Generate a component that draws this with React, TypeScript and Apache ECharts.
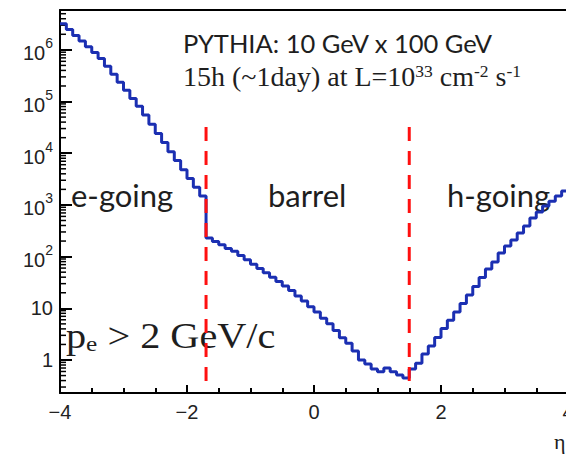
import React, { useEffect, useRef } from "react";
import * as echarts from "echarts";

// Histogram: counts per 0.1-wide eta bin, from eta = -4 to eta = 4
const ETA_START = -4;
const BIN_WIDTH = 0.1;
const counts: number[] = [
  // e-going (-4 .. -1.7)
  3.2e6, 2.47e6, 1.9e6, 1.49e6, 1.15e6, 8.9e5, 6.8e5, 4.8e5, 3.37e5, 2.35e5,
  1.65e5, 1.15e5, 8.1e4, 5.5e4, 3.65e4, 2.4e4, 1.62e4, 1.07e4, 7.2e3, 4.8e3,
  3.25e3, 2.2e3, 1.49e3,
  // barrel (-1.7 .. 1.5)
  230, 196, 169, 144, 127, 105, 87, 71, 59, 48.6,
  40, 33, 27, 22, 17.3, 13.8, 10.7, 8.5, 6.4, 5.0,
  3.73, 2.7, 2.1, 1.49, 1.0, 0.84, 0.67, 0.59, 0.7, 0.59,
  0.51, 0.45,
  // h-going (1.5 .. 4)
  0.67, 0.87, 1.31, 1.87, 2.72, 4.07, 5.9, 8.5, 12.4, 18.1,
  26.4, 39.5, 57.7, 79, 118, 161, 210, 287, 390, 560,
  730, 950, 1180, 1490, 1860,
];

const X_MIN = -4;
const X_MAX = 4;
const X_INTERVAL = 2;
const Y_MIN = 0.23;
const Y_MAX = 5.9e6;
const cutPositions = [-1.7, 1.5];
const cutLineRange = [3.2e4, 0.26];
const yMinorMultipliers = [2, 3, 4, 5, 6, 7, 8, 9];
const yDecades = [-1, 0, 1, 2, 3, 4, 5, 6];

const BLUE = "#1b2fb2";
const INK = "#1e1e1e";

export default function App() {
  const ref = useRef<HTMLDivElement>(null);

  useEffect(() => {
    const chart = echarts.init(ref.current!, null, { renderer: "svg" });

    const stepData: [number, number][] = [];
    counts.forEach((c, i) => {
      const lo = Math.round((ETA_START + i * BIN_WIDTH) * 10) / 10;
      const hi = Math.round((lo + BIN_WIDTH) * 10) / 10;
      stepData.push([lo, c]);
      stepData.push([hi, c]);
    });

    const minorTicks: [number, number][] = [];
    yDecades.forEach((d) => {
      yMinorMultipliers.forEach((m) => {
        const v = m * Math.pow(10, d);
        if (v > Y_MIN && v < Y_MAX) minorTicks.push([X_MIN, v]);
      });
    });

    const yLabel = (v: number) => {
      const n = Math.round(Math.log10(v));
      if (Math.abs(v - Math.pow(10, n)) / v > 1e-6) return "";
      if (n === 0) return "1";
      if (n === 1) return "10";
      return "{b|10}{s|" + n + "}";
    };

    const option: any = {
      animation: false,
      grid: { left: 60, right: -2, top: 10, bottom: 62, outerBoundsMode: "none", containLabel: false },
      xAxis: [
        {
          type: "value",
          min: X_MIN,
          max: X_MAX,
          interval: X_INTERVAL,
          axisLine: { show: true, onZero: false, lineStyle: { color: "#000", width: 2 } },
          axisTick: { show: true, inside: true, length: 8, lineStyle: { color: "#000", width: 2 } },
          minorTick: { show: true, splitNumber: 4, length: 5, lineStyle: { color: "#000", width: 2 } },
          splitLine: { show: false },
          axisLabel: {
            show: true,
            margin: 9,
            color: "#222",
            fontFamily: "Liberation Sans",
            fontSize: 20,
            formatter: (v: number) => (v < 0 ? "\u2212" + Math.abs(v) : String(v)),
          },
        },
        {
          type: "value",
          position: "top",
          min: X_MIN,
          max: X_MAX,
          axisLine: { show: true, onZero: false, lineStyle: { color: "#000", width: 2 } },
          axisTick: { show: false },
          axisLabel: { show: false },
          splitLine: { show: false },
        },
      ],
      yAxis: {
        type: "log",
        logBase: 10,
        min: Y_MIN,
        max: Y_MAX,
        axisLine: { show: true, onZero: false, lineStyle: { color: "#000", width: 2 } },
        axisTick: { show: true, inside: true, length: 12, lineStyle: { color: "#000", width: 2 } },
        splitLine: { show: false },
        axisLabel: {
          show: true,
          margin: 7,
          showMinLabel: false,
          showMaxLabel: false,
          color: "#222",
          fontFamily: "Liberation Sans",
          fontSize: 20,
          formatter: yLabel,
          rich: {
            b: { fontFamily: "Liberation Sans", fontSize: 20, lineHeight: 22, verticalAlign: "bottom", color: "#222" },
            s: { fontFamily: "Liberation Sans", fontSize: 14, lineHeight: 27, verticalAlign: "top", color: "#222" },
          },
        },
      },
      series: [
        {
          type: "custom",
          xAxisIndex: 0,
          silent: true,
          clip: false,
          renderItem: (_p: any, api: any) => {
            const pt = api.coord([api.value(0), api.value(1)]);
            return {
              type: "line",
              shape: { x1: pt[0], y1: pt[1], x2: pt[0] + 6, y2: pt[1] },
              style: { stroke: "#000", lineWidth: 1.5 },
            };
          },
          data: minorTicks,
        },
        {
          type: "line",
          xAxisIndex: 0,
          data: stepData,
          symbol: "none",
          lineStyle: { color: BLUE, width: 3 },
          z: 3,
        },
        ...cutPositions.map((x) => ({
          type: "line",
          xAxisIndex: 0,
          data: [
            [x, cutLineRange[0]],
            [x, cutLineRange[1]],
          ],
          symbol: "none",
          lineStyle: { color: "#ff1010", width: 3, type: [14, 10] },
          z: 4,
        })),
      ],
      graphic: [
        {
          type: "text",
          x: 183,
          y: 43,
          style: {
            text: "PYTHIA: 10 GeV x 100 GeV",
            fontFamily: "Lato",
            fontSize: 25.5,
            fill: INK,
            verticalAlign: "middle",
            align: "left",
          },
        },
        {
          type: "text",
          x: 183,
          y: 76,
          style: {
            text: "{m|15h (~1day) at L=10}{s|33}{m| cm}{s|-2}{m| s}{s|-1}",
            fill: INK,
            verticalAlign: "middle",
            align: "left",
            rich: {
              m: { fontFamily: "Liberation Serif", fontSize: 28, lineHeight: 29, verticalAlign: "middle", fill: INK },
              s: { fontFamily: "Liberation Serif", fontSize: 17.5, lineHeight: 16, verticalAlign: "top", fill: INK },
            },
          },
        },
        {
          type: "text",
          x: 71,
          y: 195,
          style: { text: "e-going", fontFamily: "Lato", fontSize: 31, fill: INK, verticalAlign: "middle" },
        },
        {
          type: "text",
          x: 268,
          y: 195,
          style: { text: "barrel", fontFamily: "Lato", fontSize: 31, fill: INK, verticalAlign: "middle" },
        },
        {
          type: "text",
          x: 447,
          y: 195,
          style: { text: "h-going", fontFamily: "Lato", fontSize: 31, fill: INK, verticalAlign: "middle" },
        },
        {
          type: "text",
          x: 66,
          y: 336,
          scaleX: 1.15,
          style: {
            text: "{m|p}{e|e}{m| > 2 GeV/c}",
            fill: INK,
            verticalAlign: "middle",
            rich: {
              m: { fontFamily: "Liberation Serif", fontSize: 35, lineHeight: 38, verticalAlign: "middle", fill: INK },
              e: { fontFamily: "Liberation Serif", fontSize: 22, lineHeight: 17, verticalAlign: "bottom", fill: INK },
            },
          },
        },
        {
          type: "text",
          x: 554,
          y: 441,
          style: { text: "\u03b7", fontFamily: "Liberation Serif", fontSize: 22, fill: INK, verticalAlign: "middle" },
        },
      ],
    };

    chart.setOption(option);
    return () => chart.dispose();
  }, []);

  return (
    <div
      ref={ref}
      style={{ position: "fixed", left: 0, top: 0, width: 566, height: 455, background: "#fff" }}
    />
  );
}
